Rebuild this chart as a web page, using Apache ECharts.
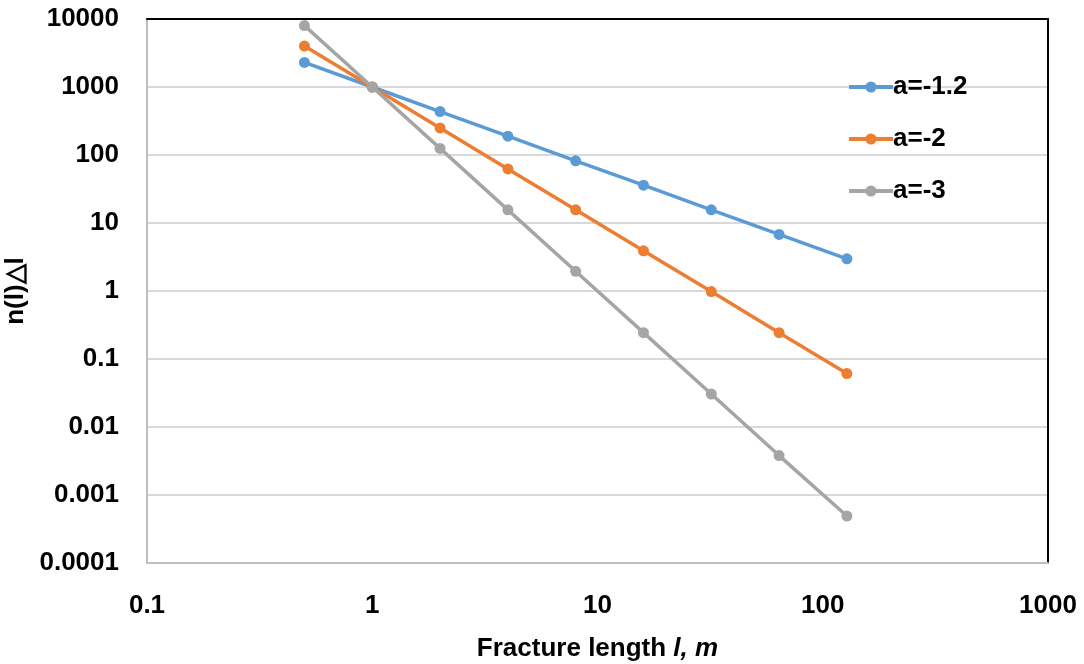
<!DOCTYPE html>
<html>
<head>
<meta charset="utf-8">
<script src="https://cdn.jsdelivr.net/npm/echarts@6/dist/echarts.min.js"></script>
<style>html,body{margin:0;padding:0;background:#fff}#c{width:1084px;height:664px}</style>
</head>
<body>
<div id="c"></div>
<script>
const lengths = [0.5, 1, 2, 4, 8, 16, 32, 64, 128];
const seriesNames = ['a=-1.2', 'a=-2', 'a=-3'];
const valsA12 = [2297, 1000, 435, 189, 82, 36, 15.6, 6.8, 2.97];
const valsA2 = [4000, 1000, 250, 62.5, 15.6, 3.9, 0.98, 0.244, 0.061];
const valsA3 = [8000, 1000, 125, 15.6, 1.95, 0.244, 0.0305, 0.0038, 0.00049];
const xTickLabels = ['0.1', '1', '10', '100', '1000'];
const yTickLabels = ['0.0001', '0.001', '0.01', '0.1', '1', '10', '100', '1000', '10000'];
const colors = ['#5B9BD5', '#ED7D31', '#A5A5A5'];

const FONT = '"Liberation Sans", Arial, sans-serif';
const FS = 26;
function lab(arr, minExp) {
  return v => { const i = Math.round(Math.log10(v)) - minExp; return arr[i] !== undefined ? arr[i] : ''; };
}
const allVals = [valsA12, valsA2, valsA3];
const chart = echarts.init(document.getElementById('c'), null, {renderer: 'canvas'});
const borderAxis = {
  axisLine: {show: true, onZero: false, lineStyle: {color: '#000', width: 2}},
  axisTick: {show: false}, axisLabel: {show: false}, splitLine: {show: false}
};
chart.setOption({
  animation: false,
  color: colors,
  grid: {left: 147, right: 36, top: 19, bottom: 101, containLabel: false, outerBoundsMode: 'none'},
  legend: {
    orient: 'vertical', left: 842, top: 69, itemGap: 26, itemWidth: 44, itemHeight: 14,
    data: seriesNames,
    lineStyle: {width: 4},
    textStyle: {fontFamily: FONT, fontWeight: 'bold', fontSize: FS, color: '#000', padding: [0,0,0,-5]}
  },
  xAxis: [{
    type: 'log', logBase: 10, min: 0.1, max: 1000,
    name: '{n|Fracture length }{i|l, m}',
    nameLocation: 'middle', nameGap: 73,
    nameTextStyle: {rich: {
      n: {fontFamily: FONT, fontWeight: 'bold', fontSize: FS, color: '#000'},
      i: {fontFamily: FONT, fontWeight: 'bold', fontStyle: 'italic', fontSize: FS, color: '#000'}
    }},
    axisLine: {show: true, onZero: false, lineStyle: {color: '#BFBFBF', width: 2}},
    axisTick: {show: false},
    splitLine: {show: false},
    axisLabel: {formatter: lab(xTickLabels, -1), fontFamily: FONT, fontWeight: 'bold', fontSize: FS, color: '#000', margin: 30}
  }, Object.assign({type: 'log', logBase: 10, min: 0.1, max: 1000, position: 'top'}, borderAxis)],
  yAxis: [{
    type: 'log', logBase: 10, min: 0.0001, max: 10000,
    name: 'n(l)△l', nameLocation: 'middle', nameGap: 110, nameRotate: 90,
    nameTextStyle: {fontFamily: FONT, fontWeight: 'bold', fontSize: FS, color: '#000'},
    axisLine: {show: true, onZero: false, lineStyle: {color: '#BFBFBF', width: 2}},
    axisTick: {show: false},
    splitLine: {show: true, lineStyle: {color: '#D9D9D9', width: 2}},
    axisLabel: {formatter: lab(yTickLabels, -4), fontFamily: FONT, fontWeight: 'bold', fontSize: FS, color: '#000', margin: 28}
  }, Object.assign({type: 'log', logBase: 10, min: 0.0001, max: 10000, position: 'right'}, borderAxis)],
  series: seriesNames.map((n, k) => ({
    name: n, type: 'line',
    data: lengths.map((x, i) => [x, allVals[k][i]]),
    symbol: 'circle', symbolSize: 11,
    lineStyle: {width: 3.5, color: colors[k]},
    itemStyle: {color: colors[k]},
    z: 3 + k
  }))
});
</script>
</body>
</html>
